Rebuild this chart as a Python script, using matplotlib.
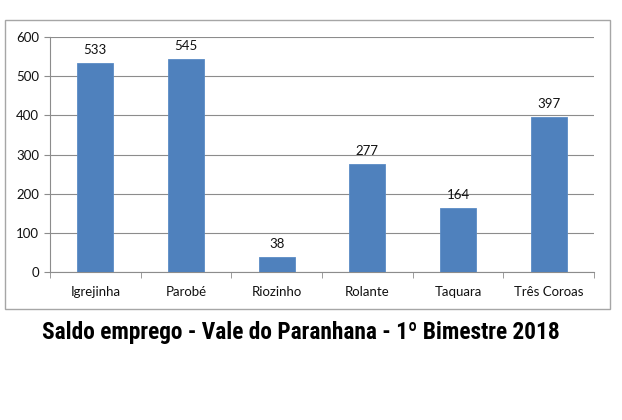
import matplotlib.pyplot as plt
from matplotlib.patches import Rectangle

# -----------------------------
# Data
# -----------------------------
cidades = ["Igrejinha", "Parobé", "Riozinho", "Rolante", "Taquara", "Três Coroas"]
saldo = [533, 545, 38, 277, 164, 397]
y_ticks = [0, 100, 200, 300, 400, 500, 600]
titulo = "Saldo emprego - Vale do Paranhana - 1º Bimestre 2018"

W, H = 622, 420
fig = plt.figure(figsize=(W / 100, H / 100), dpi=100)
fig.patch.set_facecolor("white")

# outer chart frame (Excel style)
fig.patches.append(Rectangle((5 / W, 1 - 309 / H), 605 / W, 289 / H,
                             transform=fig.transFigure, fill=False,
                             edgecolor="#a6a6a6", linewidth=1.0))

ax = fig.add_axes([50 / W, 1 - 272 / H, 544 / W, 235 / H])
x = list(range(len(cidades)))
ax.bar(x, saldo, width=0.4, color="#4f81bd", edgecolor="#5b8cc6",
       linewidth=0.6, zorder=3)

lbl = dict(fontsize=9.5, family="Lato", color="#111111")
for xi, v in zip(x, saldo):
    ax.annotate(str(v), (xi, v), xytext=(0, 5), textcoords="offset points",
                ha="center", va="bottom", **lbl)

ax.set_xlim(-0.5, len(cidades) - 0.5)
ax.set_ylim(0, 600)
ax.set_yticks(y_ticks)
ax.set_yticklabels([str(t) for t in y_ticks], **lbl)
ax.yaxis.grid(True, color="#8c8c8c", linewidth=0.8, zorder=0)

# category labels centered, ticks at boundaries
ax.set_xticks(x)
ax.set_xticklabels(cidades, **lbl)
ax.tick_params(axis="x", length=0, pad=10)
ax.set_xticks([i - 0.5 for i in range(len(cidades) + 1)], minor=True)
ax.tick_params(axis="x", which="minor", length=4, color="#8c8c8c", direction="out")
ax.tick_params(axis="y", length=4, color="#8c8c8c", pad=4)

for s in ["top", "right"]:
    ax.spines[s].set_visible(False)
for s in ["left", "bottom"]:
    ax.spines[s].set_color("#8c8c8c")
    ax.spines[s].set_linewidth(0.8)

fig.text(301 / W, 1 - 333 / H, titulo, ha="center", va="center",
         fontsize=16.8, fontweight="heavy", fontstretch="condensed",
         family=["Roboto Condensed", "DejaVu Sans"], color="black")

fig.savefig("out.png", dpi=100)
